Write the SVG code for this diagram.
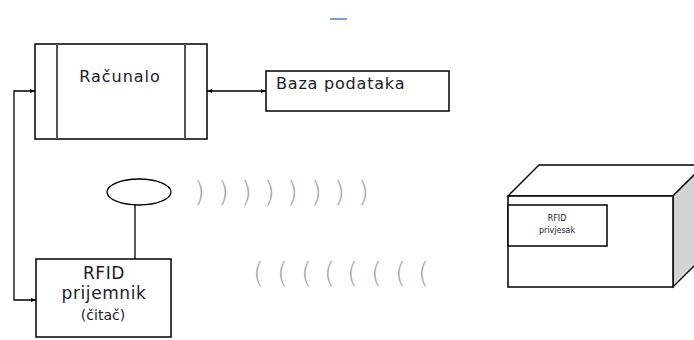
<svg xmlns="http://www.w3.org/2000/svg" width="694" height="340" viewBox="0 0 694 340">
<style>
.box{fill:#fff;stroke:#000;stroke-width:1.5}
.ln{fill:none;stroke:#000;stroke-width:1.3}
.lbl{font-family:"DejaVu Sans",Verdana,sans-serif;fill:#1a1a2a}
.wave{font-family:"DejaVu Sans",sans-serif;font-size:28px;font-weight:200;fill:#a4a4a4}
</style>
<defs>
<marker id="ah" viewBox="0 0 10 10" refX="10" refY="5" markerWidth="5" markerHeight="5" orient="auto-start-reverse" markerUnits="userSpaceOnUse">
<path d="M0,1 L10,5 L0,9 z" fill="#000"/>
</marker>
</defs>
<rect x="330" y="18" width="17" height="2" fill="#7f9fc8"/>
<g id="racunalo">
<rect class="box" x="35" y="44" width="172" height="95"/>
<line x1="57" y1="44" x2="57" y2="139" stroke="#555" stroke-width="2"/>
<line x1="185" y1="44" x2="185" y2="139" stroke="#555" stroke-width="2"/>
<text class="lbl" x="120" y="82" font-size="16" letter-spacing="1" text-anchor="middle">Računalo</text>
</g>
<g id="baza">
<rect class="box" x="266" y="71" width="183" height="40"/>
<text class="lbl" x="276" y="89" font-size="16" letter-spacing="0.8">Baza podataka</text>
</g>
<g id="prijemnik">
<rect class="box" x="36" y="259" width="135" height="78"/>
<text class="lbl" x="104" y="279" font-size="17" letter-spacing="0.6" text-anchor="middle">RFID</text>
<text class="lbl" x="104" y="299" font-size="17" letter-spacing="0.6" text-anchor="middle">prijemnik</text>
<text class="lbl" x="103" y="320" font-size="14" text-anchor="middle">(čitač)</text>
</g>
<g id="antena">
<ellipse cx="139" cy="192" rx="32" ry="13" fill="#fff" stroke="#000" stroke-width="1.3"/>
<line class="ln" x1="135" y1="205" x2="135" y2="259"/>
</g>
<g id="signal">
<text class="wave" y="202" x="194 218 241 264 287 311 334 358">))))))))</text>
<text class="wave" y="283" x="253 277 301 324 347 371 395 418">((((((((</text>
</g>
<g id="privjesak">
<polygon points="508,196 539,165 704,165 673,196" fill="#fff" stroke="#000" stroke-width="1.3"/>
<polygon points="673,196 704,165 704,256 673,287" fill="#d4d4d4" stroke="#000" stroke-width="1.3"/>
<rect class="box" x="508" y="196" width="165" height="91"/>
<rect class="box" x="508" y="205" width="99" height="41"/>
<text class="lbl" x="557" y="221" font-size="8" text-anchor="middle">RFID</text>
<text class="lbl" x="557" y="233" font-size="8" text-anchor="middle">privjesak</text>
</g>
<g id="connectors">
<polyline class="ln" points="35,91 14,91 14,300 36,300" marker-start="url(#ah)" marker-end="url(#ah)"/>
<line class="ln" x1="207" y1="91" x2="266" y2="91" marker-start="url(#ah)" marker-end="url(#ah)"/>
</g>
</svg>
